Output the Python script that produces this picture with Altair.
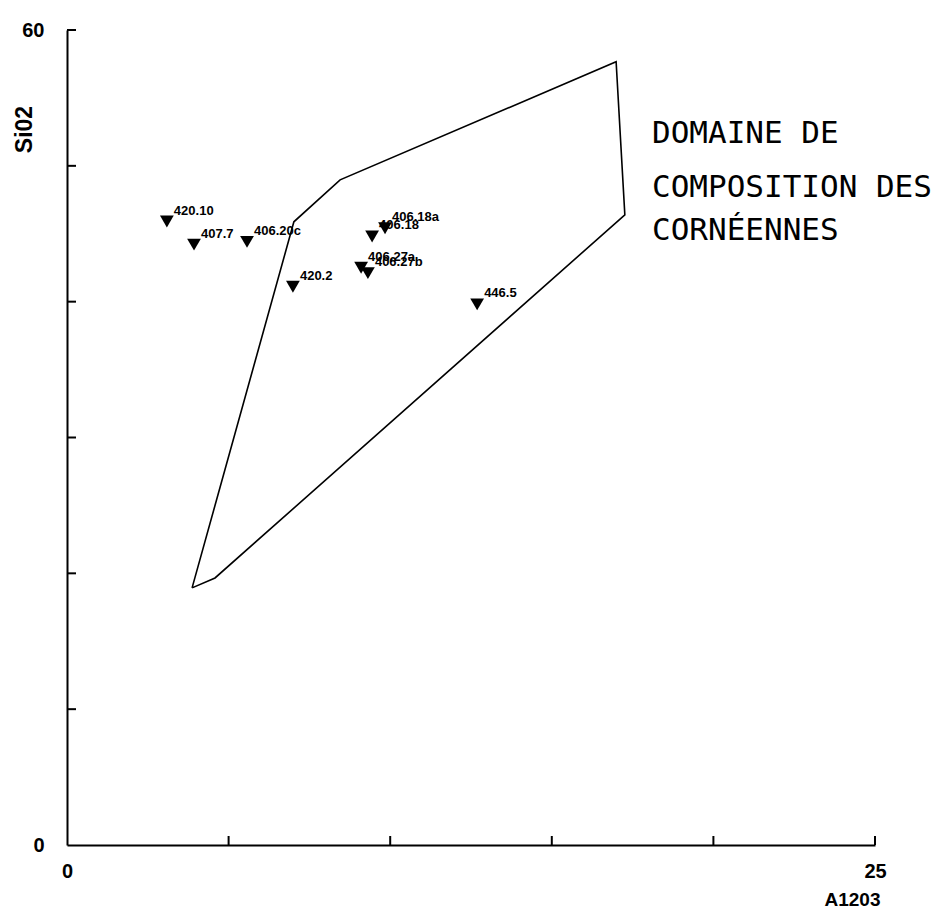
import altair as alt
import pandas as pd

# Sample points (Al2O3, SiO2)
sample_names = ["420.10", "407.7", "406.20c", "420.2", "406.18", "406.18a", "406.27a", "406.27b", "446.5"]
al2o3 = [3.09, 3.93, 5.57, 6.99, 9.44, 9.84, 9.10, 9.31, 12.69]
sio2 = [45.9, 44.2, 44.4, 41.1, 44.8, 45.4, 42.5, 42.1, 39.8]

# Domain (polygon) of hornfels compositions
poly_x = [3.87, 4.58, 17.26, 16.99, 8.45, 7.02, 3.87]
poly_y = [18.93, 19.66, 46.39, 57.66, 48.97, 45.88, 18.93]

# Annotation lines
note_lines = ["DOMAINE DE", "COMPOSITION DES", "CORNÉENNES"]
note_x = [18.1, 18.1, 18.1]
note_y = [51.69, 47.72, 44.55]

x_ticks = [5, 10, 15, 20, 25]
y_ticks = [10, 20, 30, 40, 50, 60]

pts = pd.DataFrame({"name": sample_names, "x": al2o3, "y": sio2})
poly = pd.DataFrame({"x": poly_x, "y": poly_y, "order": list(range(len(poly_x)))})
notes = pd.DataFrame({"text": note_lines, "x": note_x, "y": note_y})
xt = pd.DataFrame({"v": x_ticks})
yt = pd.DataFrame({"v": y_ticks})

W, H = 808, 815
label_font = "Liberation Sans"

xscale = alt.Scale(domain=[0, 25], nice=False, zero=True)
yscale = alt.Scale(domain=[0, 60], nice=False, zero=True)

xaxis = alt.Axis(values=[0, 25], ticks=False, grid=False, domain=True, domainColor="black",
                 domainWidth=2, labelFont=label_font, labelFontWeight="bold", labelFontSize=20,
                 labelColor="black", labelPadding=16, labelFlush=False,
                 title="A1203", titleFont=label_font, titleFontWeight="bold", titleFontSize=19,
                 titleColor="black", titleX=785, titleY=54, titleAlign="center",
                 titleBaseline="middle")
yaxis = alt.Axis(values=[0, 60], ticks=False, grid=False, domain=True, domainColor="black",
                 domainWidth=2, labelFont=label_font, labelFontWeight="bold", labelFontSize=20,
                 labelColor="black", labelPadding=23,
                 title="Si02", titleFont=label_font, titleFontWeight="bold", titleFontSize=23,
                 titleColor="black", titleX=-43, titleY=99, titleAngle=270, titleAlign="center",
                 titleBaseline="middle")

base_poly = alt.Chart(poly).mark_line(color="black", strokeWidth=1.6).encode(
    x=alt.X("x:Q", scale=xscale, axis=xaxis),
    y=alt.Y("y:Q", scale=yscale, axis=yaxis),
    order="order:Q",
)

points = alt.Chart(pts).mark_point(shape="triangle-down", filled=True, color="black",
                                   size=190, opacity=1).encode(
    x=alt.X("x:Q", scale=xscale),
    y=alt.Y("y:Q", scale=yscale),
)

labels = alt.Chart(pts).mark_text(align="left", baseline="bottom", dx=7, dy=-4,
                                  font=label_font, fontWeight="bold", fontSize=13,
                                  color="black").encode(
    x=alt.X("x:Q", scale=xscale),
    y=alt.Y("y:Q", scale=yscale),
    text="name:N",
)

note = alt.Chart(notes).mark_text(align="left", baseline="alphabetic", font="DejaVu Sans Mono",
                                  fontSize=31, color="black").encode(
    x=alt.X("x:Q", scale=xscale),
    y=alt.Y("y:Q", scale=yscale),
    text="text:N",
)

xtick = alt.Chart(xt).mark_rule(color="black", strokeWidth=2).encode(
    x=alt.X("v:Q", scale=xscale),
    y=alt.value(H),
    y2=alt.value(H - 9),
)
ytick = alt.Chart(yt).mark_rule(color="black", strokeWidth=2).encode(
    y=alt.Y("v:Q", scale=yscale),
    x=alt.value(0),
    x2=alt.value(9),
)

chart = alt.layer(base_poly, points, labels, note, xtick, ytick).properties(
    width=W, height=H,
    autosize=alt.AutoSizeParams(type="none"),
    padding={"left": 59, "top": 22, "right": 61, "bottom": 64},
    background="white",
).configure_view(stroke=None)

chart.save("out.html", embed_options={"renderer": "svg", "actions": False})
